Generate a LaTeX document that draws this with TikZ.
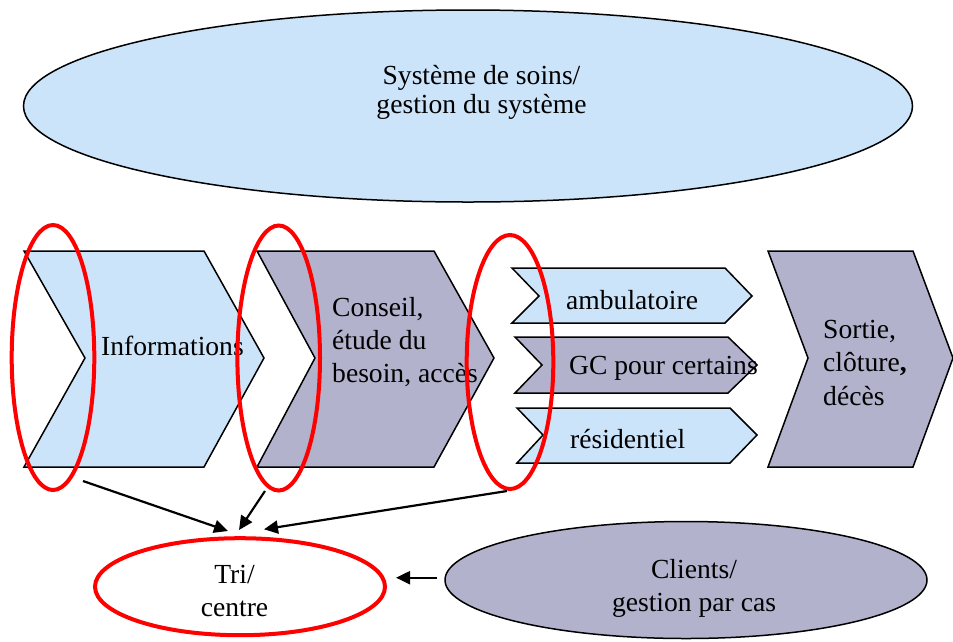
\documentclass[tikz,border=0pt]{standalone}
\usepackage{fontspec}
\setmainfont{Liberation Serif}
\usetikzlibrary{shapes.geometric,arrows.meta}
\definecolor{lblue}{RGB}{204,228,250}
\definecolor{lgray}{RGB}{178,178,204}
\begin{document}
\begin{tikzpicture}[x=1pt,y=-1pt,
  txt/.style={inner sep=0pt, font=\fontsize{27.6}{33}\selectfont},
  chev/.style={draw=black, line width=1.5pt, line join=miter},
  redell/.style={ellipse, draw=red, line width=4pt, inner sep=0pt},
  arr/.style={line width=2.2pt, -{Triangle[length=14pt,width=13pt]}}]
\useasboundingbox (0,0) rectangle (953,641);

% top ellipse
\node[ellipse, draw=black, line width=1.5pt, fill=lblue, minimum width=889pt, minimum height=192pt, inner sep=0pt] (sys) at (468,106) {};
\node[txt, anchor=base] (systxt) at (481.5,84.5) {\fontsize{27.6}{28.5}\selectfont\begin{tabular}[t]{@{}c@{}}Système de soins/\\gestion du système\end{tabular}};

% chevrons
\draw[chev, fill=lblue] (24,251) -- (204,251) -- (264,358) -- (204,467) -- (24,467) -- (85,358) -- cycle;
\draw[chev, fill=lgray] (257,251) -- (434,251) -- (494,358) -- (434,467) -- (257,467) -- (315,358) -- cycle;
\draw[chev, fill=lblue] (512,268) -- (725,268) -- (752,296) -- (725,323) -- (512,323) -- (539,296) -- cycle;
\draw[chev, fill=lgray] (515,337) -- (728,337) -- (757,365) -- (728,393) -- (515,393) -- (542,365) -- cycle;
\draw[chev, fill=lblue] (517,408) -- (730,408) -- (757,435) -- (730,463) -- (517,463) -- (543,435) -- cycle;
\draw[chev, fill=lgray] (768,251) -- (913,251) -- (953,358) -- (913,467) -- (768,467) -- (808,358) -- cycle;

% chevron texts
\node[txt, anchor=base west] (info) at (101,355) {Informations};
\node[txt, anchor=base west] (cons) at (332,316) {\begin{tabular}[t]{@{}l@{}}Conseil,\\étude du\\besoin, accès\end{tabular}};
\node[txt, anchor=base west] (amb) at (566,309) {ambulatoire};
\node[txt, anchor=base west] (gc) at (569,374) {GC pour certains};
\node[txt, anchor=base west] (res) at (570,448) {résidentiel};
\node[txt, anchor=base west] (sort) at (823,338) {\fontsize{27.6}{33.5}\selectfont\begin{tabular}[t]{@{}l@{}}Sortie,\\clôture{\bfseries,}\\décès\end{tabular}};

% red ellipses
\node[redell, minimum width=82.6pt, minimum height=265pt] (e1) at (53,357.5) {};
\node[redell, minimum width=82.6pt, minimum height=265pt] (e2) at (278.7,358) {};
\node[redell, minimum width=86.6pt, minimum height=254pt] (e3) at (510,362) {};

% bottom ellipses
\node[redell, fill=white, minimum width=290pt, minimum height=97pt] (tri) at (240,586.7) {};
\node[txt, anchor=base] (tritxt) at (234.5,583.3) {\begin{tabular}[t]{@{}c@{}}Tri/\\centre\end{tabular}};
\node[ellipse, draw=black, line width=1.5pt, fill=lgray, minimum width=482pt, minimum height=117pt, inner sep=0pt] (cl) at (686,580) {};
\node[txt, anchor=base] (cltxt) at (694,578.3) {\begin{tabular}[t]{@{}c@{}}Clients/\\gestion par cas\end{tabular}};

% arrows
\coordinate (a1s) at (83,481);
\coordinate (a1e) at (228,531);
\coordinate (a2s) at (265,491);
\coordinate (a2e) at (239,530);
\coordinate (a3s) at (507,491);
\coordinate (a3e) at (264,529.3);
\draw[arr] (a1s) -- (a1e);
\draw[arr] (a2s) -- (a2e);
\draw[arr] (a3s) -- (a3e);
\draw[arr] ([xshift=-7pt,yshift=2.3pt]cl.west) -- ([xshift=9pt,yshift=2.3pt]tri.east |- cl.west);
\end{tikzpicture}
\end{document}
